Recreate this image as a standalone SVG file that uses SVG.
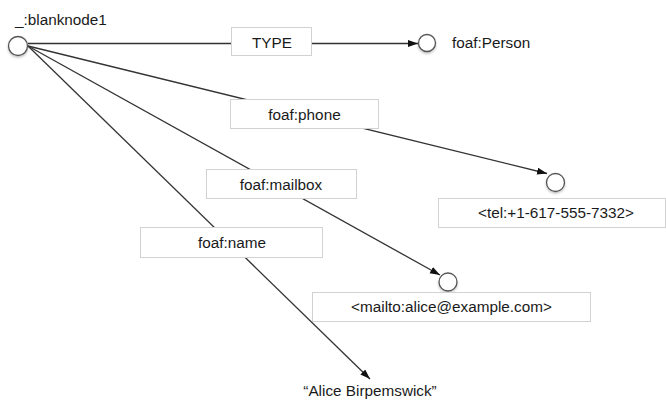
<svg xmlns="http://www.w3.org/2000/svg" width="666" height="402" viewBox="0 0 666 402">
  <defs>
    <marker id="arrow" markerUnits="userSpaceOnUse" markerWidth="11" markerHeight="8" refX="10" refY="3.5" orient="auto">
      <path d="M0,0 L10,3.5 L0,7 z" fill="#111"/>
    </marker>
    <filter id="shadow" x="-50%" y="-50%" width="200%" height="200%">
      <feDropShadow dx="0" dy="1.5" stdDeviation="1.2" flood-color="#000" flood-opacity="0.25"/>
    </filter>
    <style>
      .edge { stroke: #333; stroke-width: 1.3; fill: none; marker-end: url(#arrow); }
      .node { fill: #fff; stroke: #555; stroke-width: 1.3; filter: url(#shadow); }
      .label-box { fill: #fff; stroke: #d2d2d2; stroke-width: 1; }
      text { font-family: "Liberation Sans", Arial, sans-serif; font-size: 15.3px; fill: #1a1a1a; }
      .mid { text-anchor: middle; }
    </style>
  </defs>
  <rect width="666" height="402" fill="#fff"/>

  <!-- connectors: drawn first so the label boxes sit on top of them -->
  <g id="connectors">
    <line class="edge" x1="28" y1="43.5" x2="418" y2="43.5"/>
    <line class="edge" x1="28" y1="46" x2="547" y2="173.5"/>
    <line class="edge" x1="28" y1="46" x2="440" y2="275"/>
    <line class="edge" x1="28" y1="46" x2="370" y2="379"/>
  </g>

  <!-- edge labels -->
  <g id="label-type">
    <rect class="label-box" x="231.5" y="27.5" width="80" height="28"/>
    <text class="mid" x="272" y="48">TYPE</text>
  </g>
  <g id="label-phone">
    <rect class="label-box" x="230.5" y="99.5" width="148" height="29"/>
    <text class="mid" x="304.5" y="120">foaf:phone</text>
  </g>
  <g id="label-mailbox">
    <rect class="label-box" x="206.5" y="169.5" width="150" height="29"/>
    <text class="mid" x="281" y="190">foaf:mailbox</text>
  </g>
  <g id="label-name">
    <rect class="label-box" x="140.5" y="227.5" width="182" height="30"/>
    <text class="mid" x="232" y="248">foaf:name</text>
  </g>

  <!-- nodes -->
  <g id="blanknode1">
    <circle class="node" cx="18" cy="46" r="9.5"/>
    <text x="15" y="25">_:blanknode1</text>
  </g>
  <g id="person">
    <circle class="node" cx="427" cy="43" r="8.5"/>
    <text x="452" y="48">foaf:Person</text>
  </g>
  <g id="tel">
    <circle class="node" cx="555.5" cy="182.5" r="9"/>
    <rect class="label-box" x="438.5" y="198.5" width="227" height="29"/>
    <text class="mid" x="556" y="218">&lt;tel:+1-617-555-7332&gt;</text>
  </g>
  <g id="mailto">
    <circle class="node" cx="448" cy="282" r="9"/>
    <rect class="label-box" x="312.5" y="292.5" width="278" height="29"/>
    <text class="mid" x="451.5" y="312">&lt;mailto:alice@example.com&gt;</text>
  </g>
  <g id="name-literal">
    <text class="mid" x="370" y="396">“Alice Birpemswick”</text>
  </g>
</svg>
